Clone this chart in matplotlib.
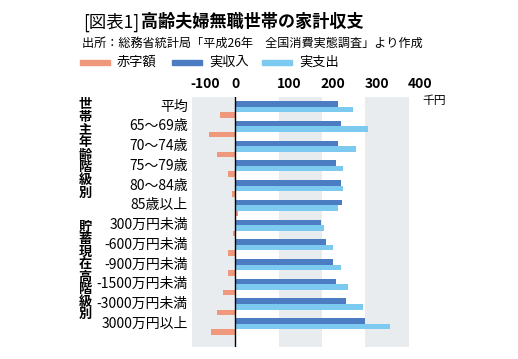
import numpy as np
import matplotlib.pyplot as plt

plt.rcParams['font.family'] = ['Noto Sans CJK JP', 'DejaVu Sans']

# categories (top to bottom)
categories = ['平均', '65～69歳', '70～74歳', '75～79歳', '80～84歳', '85歳以上',
              '300万円未満', '-600万円未満', '-900万円未満', '-1500万円未満',
              '-3000万円未満', '3000万円以上']
# values in thousand yen
income = [237, 243, 237, 232, 243, 246, 198, 210, 226, 232, 256, 300]    # 実収入
expense = [271, 305, 279, 248, 249, 237, 204, 226, 244, 259, 295, 356]   # 実支出
deficit = [-35, -60, -42, -17, -7, 7, -5, -17, -17, -29, -42, -57]       # 赤字額

x_ticklabels = ['-100', '0', '100', '200', '300', '400']
group1 = '世帯主年齢階級別'
group2 = '貯蓄現在高階級別'

c_def = '#F0987B'
c_inc = '#4C7DC2'
c_exp = '#7CCAEF'
c_band = '#E9ECEF'

fig = plt.figure(figsize=(5.18, 3.59), dpi=100)
ax = fig.add_axes([192/518, 1-347/359, 228/518, 250/359])

y = np.arange(len(categories))
h = 0.28
for lo, hi in [(-100, 0), (100, 200), (300, 400)]:
    ax.axvspan(lo, hi, color=c_band, lw=0, zorder=0)
ax.barh(y - h, income, height=h, color=c_inc, zorder=2)
ax.barh(y, expense, height=h, color=c_exp, zorder=2)
ax.barh(y + h, deficit, height=h, color=c_def, zorder=2)
ax.axvline(0, color='black', lw=1, zorder=3)

ax.set_xlim(-100, 400)
ax.set_ylim(len(categories) - 1 + 1.04, -0.63)
for s in ax.spines.values():
    s.set_visible(False)

# x tick labels on top (slightly offset like the original)
ax.xaxis.tick_top()
ax.set_xticks([-69, 1, 124, 226, 327, 426], x_ticklabels, fontsize=10, fontweight='bold')
ax.tick_params(axis='x', length=0, pad=4)

ax.set_yticks(y - 0.22, categories, fontsize=10)
ax.tick_params(axis='y', length=0, pad=3)

ax.text(1.01, 0.985, '千円', transform=ax.transAxes, fontsize=8.5, ha='left', va='center')

# vertical group labels (one char per line)
fig.text(85/518, 1 - 97/359, '\n'.join(group1), ha='center', va='top',
         fontsize=9.5, fontweight='bold', linespacing=0.88)
fig.text(85/518, 1 - 220/359, '\n'.join(group2), ha='center', va='top',
         fontsize=9.5, fontweight='bold', linespacing=0.86)

# title
fig.text(83/518, 1 - 22/359, '[図表1]', fontsize=12.5, ha='left', va='center')
fig.text(141/518, 1 - 22/359, '高齢夫婦無職世帯の家計収支', fontsize=12.3,
         fontweight='bold', ha='left', va='center')
fig.text(82/518, 1 - 43/359, '出所：総務省統計局「平成26年　全国消費実態調査」より作成',
         fontsize=8.7, ha='left', va='center')

# legend
for x0, col, lab in [(80, c_def, '赤字額'), (172, c_inc, '実収入'), (262, c_exp, '実支出')]:
    fig.patches.append(plt.Rectangle((x0/518, 1 - 65/359), 30/518, 5/359,
                                     transform=fig.transFigure, color=col, figure=fig))
    fig.text((x0 + 37)/518, 1 - 62/359, lab, fontsize=9.5, ha='left', va='center')

fig.savefig('out.png', dpi=100)
